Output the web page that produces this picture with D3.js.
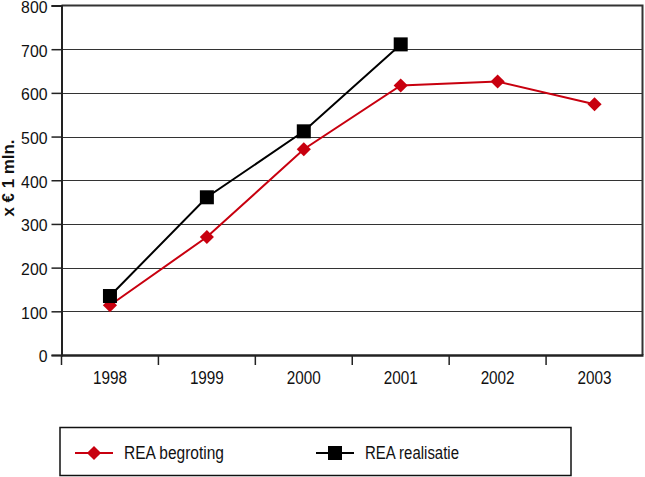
<!DOCTYPE html>
<html><head><meta charset="utf-8">
<script src="https://cdn.jsdelivr.net/npm/d3@7"></script>
<style>body{margin:0;background:#fff}svg{display:block}text{font-family:"Liberation Sans",Arial,sans-serif}</style>
</head><body>
<script>
const years = ["1998","1999","2000","2001","2002","2003"];
const begroting = [114, 270, 471, 617, 626, 574];
const realisatie = [135, 361, 512, 711];
const yTicks = [0,100,200,300,400,500,600,700,800];
const seriesNames = ["REA begroting","REA realisatie"];
const colors = ["#c8000f","#000000"];

const FONT='"Liberation Sans",Arial,sans-serif';
const W=645,H=477;
const svg=d3.select("body").append("svg").attr("width",W).attr("height",H);
const L=61.5,R=643,T=5.5,B=355;
const x=d3.scaleBand().domain(years).range([L,R]);
const y=d3.scaleLinear().domain([0,800]).range([B,T]);

// gridlines
svg.append("g").selectAll("line").data(yTicks.filter(d=>d>0&&d<800)).join("line")
 .attr("x1",L).attr("x2",R).attr("y1",d=>Math.round(y(d))+0.5).attr("y2",d=>Math.round(y(d))+0.5)
 .attr("stroke","#333").attr("stroke-width",1.2);
// frame top/right
svg.append("path").attr("d",`M${L},${T}H${R-0.5}V${B}`).attr("fill","none").attr("stroke","#333").attr("stroke-width",2);

// y axis
const ya=svg.append("g").attr("transform",`translate(${L},0)`)
 .call(d3.axisLeft(y).tickValues(yTicks).tickSize(10).tickPadding(4));
ya.select(".domain").attr("stroke","#222").attr("stroke-width",2);
ya.selectAll(".tick line").attr("stroke","#222").attr("stroke-width",1.5);
ya.selectAll("text").attr("font-size",17).attr("fill","#111").attr("font-family",FONT).attr("dy","0.4em")
 .attr("textLength",d=>String(d).length*8.8).attr("lengthAdjust","spacingAndGlyphs");

// x axis
const xa=svg.append("g").attr("transform",`translate(0,${B})`)
 .call(d3.axisBottom(x).tickSize(0).tickPadding(17));
xa.select(".domain").attr("stroke","#222").attr("stroke-width",2.5);
xa.selectAll("text").attr("font-size",17.5).attr("fill","#111").attr("font-family",FONT)
 .attr("textLength",d=>String(d).length*8.5).attr("lengthAdjust","spacingAndGlyphs");
svg.append("g").selectAll("line").data(years).join("line")
 .attr("x1",d=>x(d)).attr("x2",d=>x(d)).attr("y1",B).attr("y2",B+10)
 .attr("stroke","#222").attr("stroke-width",1.5);

// y title
svg.append("text").attr("transform","translate(14,178) rotate(-90)")
 .attr("text-anchor","middle").attr("font-size",17).attr("font-weight","bold").attr("fill","#111")
 .attr("font-family",FONT).attr("textLength",77).attr("lengthAdjust","spacingAndGlyphs")
 .text("x € 1 mln.");

const cx=d=>x(d)+x.bandwidth()/2;
const line=d3.line().x((d,i)=>cx(years[i])).y(d=>y(d));
svg.append("path").datum(realisatie).attr("d",line).attr("fill","none").attr("stroke",colors[1]).attr("stroke-width",2);
svg.append("path").datum(begroting).attr("d",line).attr("fill","none").attr("stroke",colors[0]).attr("stroke-width",2);

const diamond=d3.symbol().type(d3.symbolSquare).size(100);
svg.append("g").selectAll("path").data(begroting).join("path")
 .attr("d",diamond).attr("fill",colors[0])
 .attr("transform",(d,i)=>`translate(${cx(years[i])},${y(d)}) rotate(45)`);
svg.append("g").selectAll("rect").data(realisatie).join("rect")
 .attr("x",(d,i)=>cx(years[i])-7).attr("y",d=>y(d)-7).attr("width",14).attr("height",14).attr("fill",colors[1]);

// legend
svg.append("rect").attr("x",60).attr("y",427.5).attr("width",511).attr("height",48).attr("fill","none").attr("stroke","#111").attr("stroke-width",1.5);
const lg=[{x:75,name:seriesNames[0],c:colors[0],t:"d",w:100},{x:316,name:seriesNames[1],c:colors[1],t:"s",w:94}];
lg.forEach(o=>{
  svg.append("line").attr("x1",o.x).attr("x2",o.x+38).attr("y1",453).attr("y2",453).attr("stroke",o.c).attr("stroke-width",2);
  if(o.t==="d") svg.append("path").attr("d",diamond).attr("fill",o.c).attr("transform",`translate(${o.x+19},453) rotate(45)`);
  else svg.append("rect").attr("x",o.x+12).attr("y",446).attr("width",14).attr("height",14).attr("fill",o.c);
  svg.append("text").attr("x",o.x+49).attr("y",459).attr("font-size",17.5).attr("fill","#111").attr("font-family",FONT)
   .attr("textLength",o.w).attr("lengthAdjust","spacingAndGlyphs").text(o.name);
});
</script>
</body></html>
